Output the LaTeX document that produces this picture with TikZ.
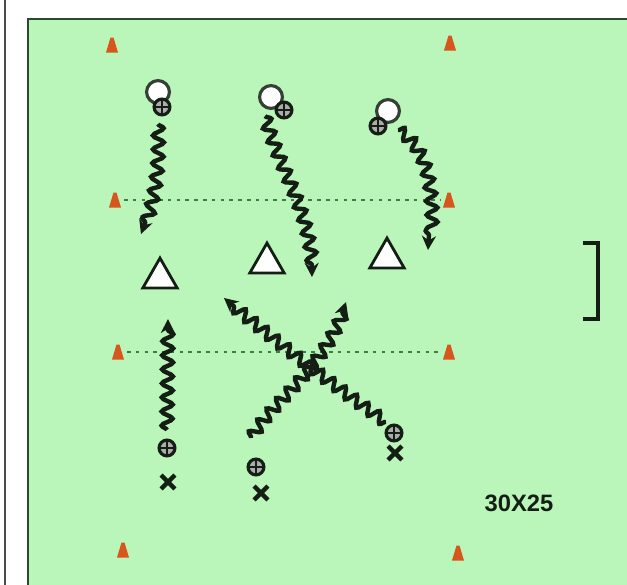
\documentclass[tikz,border=0pt]{standalone}
\usepackage{fontspec}
\setmainfont{Liberation Sans}
\usetikzlibrary{decorations.pathmorphing,arrows.meta,shapes.geometric}
\definecolor{field}{RGB}{186,246,186}
\definecolor{fieldline}{RGB}{40,75,45}
\definecolor{cone}{RGB}{214,86,30}
\definecolor{dotc}{RGB}{60,125,70}
\definecolor{ink}{RGB}{20,30,20}
\tikzset{
  conemark/.style={fill=cone, draw=none},
  ballnode/.style={circle, draw=ink!85, line width=1.8pt, fill=white, minimum size=13pt, inner sep=0pt},
  playernode/.style={circle, draw=ink, line width=1.8pt, fill=gray!65, minimum size=9pt, inner sep=0pt},
  manq/.style={isosceles triangle, isosceles triangle stretches, minimum width=19.5pt, minimum height=17pt, shape border rotate=90, draw=ink, line width=1.6pt, fill=white, inner sep=0pt},
  dribble/.style={line width=2.5pt, draw=ink, -{Stealth[length=8pt,width=8pt]},
     decoration={snake, segment length=8pt, amplitude=3.1pt, post length=5pt}, decorate},
  dotline/.style={dotc, line width=1.3pt, dash pattern=on 2pt off 3pt},
  xmark/.style={minimum size=7.5pt, inner sep=0pt}
}
\newcommand{\conemark}[2]{\fill[conemark] (#1-6,#2+7.5) -- (#1+6,#2+7.5) -- (#1+1.5,#2-7.5) -- (#1-1.5,#2-7.5) -- cycle;}
\begin{document}
\begin{tikzpicture}[x=0.02cm, y=-0.02cm]
\useasboundingbox (0,0) rectangle (627,585);
\fill[white] (0,0) rectangle (627,585);
\draw[gray!60!black, line width=1.3pt] (5,0) -- (5,585);
\fill[field] (28,19) rectangle (627,585);
\draw[fieldline, line width=1.5pt] (28,585) -- (28,19) -- (627,19);
% cones
\conemark{112}{45}
\conemark{450}{43}
\conemark{115}{200}
\conemark{449}{200}
\conemark{118}{352}
\conemark{449}{352}
\conemark{123}{550}
\conemark{458}{553}
% dotted lines
\draw[dotline] (124,200) -- (441,200);
\draw[dotline] (127,352) -- (441,352);
% mannequins
\node[manq] (t1) at (160,278) {};
\node[manq] (t2) at (267,263) {};
\node[manq] (t3) at (387,258) {};
% balls and players top
\node[ballnode] (b1) at (158,92) {};
\node[ballnode] (b2) at (271,97) {};
\node[ballnode] (b3) at (388,111) {};
\foreach \n/\x/\y in {p1/162/107, p2/284/110, p3/378/126, q1/167/448, q2/256/467, q3/394/433}{
  \node[playernode] (\n) at (\x,\y) {};
  \draw[ink, line width=1.2pt] (\n.north) -- (\n.south) (\n.west) -- (\n.east);
}
% x marks
\foreach \n/\x/\y in {x1/168/482, x2/261/493, x3/395/453}{
  \node[xmark] (\n) at (\x,\y) {};
  \draw[ink, line width=2.5pt] (\n.north west) -- (\n.south east) (\n.north east) -- (\n.south west);
}
% dribble path coordinates
\coordinate (s1) at (158,124);
\coordinate (e1) at (141,234);
\coordinate (s2) at (265,116);
\coordinate (e2) at (312,277);
\coordinate (s3) at (398,130);
\coordinate (e3) at (428,250);
\coordinate (s4) at (167,430);
\coordinate (e4) at (168,319);
\coordinate (s5) at (251,438);
\coordinate (e5) at (346,302);
\coordinate (s6) at (386,422);
\coordinate (e6) at (224,298);
\draw[dribble] (s1) .. controls (160,175) and (152,205) .. (e1);
\draw[dribble] (s2) .. controls (280,170) and (312,210) .. (e2);
\draw[dribble] (s3) .. controls (428,150) and (432,195) .. (e3);
\draw[dribble] (s4) -- (e4);
\draw[dribble] (s5) .. controls (275,400) and (325,370) .. (e5);
\draw[dribble] (s6) .. controls (340,390) and (280,345) .. (e6);
% bracket
\coordinate (k1) at (583,243);
\coordinate (k2) at (598,243);
\coordinate (k3) at (598,319);
\coordinate (k4) at (583,319);
\draw[ink, line width=1.8pt] (k1) -- (k2) -- (k3) -- (k4);
% label
\node[font=\bfseries\fontsize{13.5}{13.5}\selectfont, text=ink, inner sep=0pt] (lbl) at (519,503) {30X25};
\end{tikzpicture}
\end{document}
